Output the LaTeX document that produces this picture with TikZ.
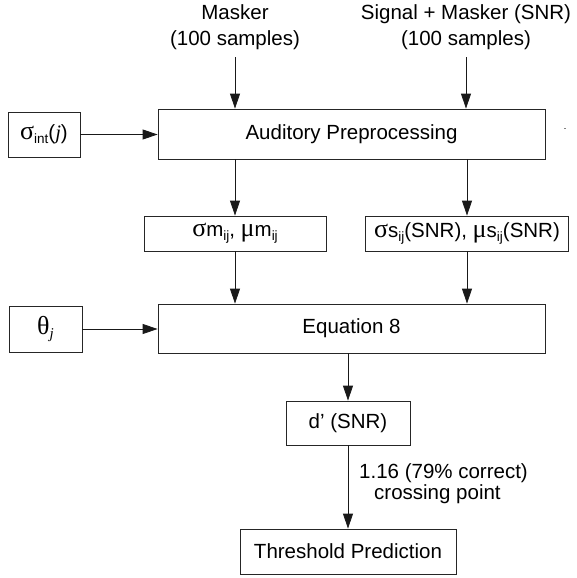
\documentclass[tikz,border=0pt]{standalone}
\usepackage{fontspec}
\setmainfont{Liberation Sans}
\newfontfamily\grk{Liberation Serif}
\usetikzlibrary{arrows.meta}
\newcommand{\sbs}[1]{\raisebox{-4pt}{\fontsize{13.5}{13.5}\selectfont #1}}
\newcommand{\gk}[1]{{\grk\fontsize{26}{26}\selectfont #1}}
\begin{document}
\begin{tikzpicture}[x=1pt,y=-1pt, font=\fontsize{20.5}{25}\selectfont,
  box/.style={draw=black!85, line width=0.8pt, rectangle, inner sep=0pt, anchor=center},
  arr/.style={draw=black!90, line width=0.8pt, -{Triangle[length=15pt,width=10pt]}},
  ln/.style={draw=black!85, line width=0.8pt}]
\useasboundingbox (0,0) rectangle (576,578);
% inputs
\node[align=center, font=\fontsize{20.5}{26}\selectfont] (masker) at (235,27) {Masker\\(100 samples)};
\node[align=center, font=\fontsize{20.5}{26}\selectfont] (signal) at (466,27) {Signal + Masker (SNR)\\(100 samples)};
% boxes
\node[box, minimum width=72pt, minimum height=45pt] (sint) at (44,134.5) {\gk{σ}\sbs{int}({\grk\itshape j})};
\node[box, minimum width=387pt, minimum height=50pt] (ap) at (351.5,134) {Auditory Preprocessing};
\node[box, minimum width=182pt, minimum height=35pt] (sm) at (235,233.5) {\gk{σ}m\sbs{ij}, \gk{μ}m\sbs{ij}};
\node[box, minimum width=203pt, minimum height=35pt] (ss) at (467,233.5) {\gk{σ}s\sbs{ij}(SNR), \gk{μ}s\sbs{ij}(SNR)};
\node[box, minimum width=73pt, minimum height=46pt] (th) at (45.5,329) {\gk{θ}\sbs{\grk\itshape\fontsize{15}{15}\selectfont j}};
\node[box, minimum width=387pt, minimum height=49pt] (eq) at (351.5,328.5) {Equation 8};
\node[box, minimum width=124pt, minimum height=44pt] (d) at (348,423) {d’ (SNR)};
\node[box, minimum width=216pt, minimum height=45pt] (thr) at (348,551.5) {Threshold Prediction};
\node[anchor=north west, align=left, font=\fontsize{20.5}{21.5}\selectfont, inner sep=0pt] (lab) at (359,463) {1.16 (79\% correct)\\\hspace{15pt}crossing point};
% connectors
\draw[arr, shorten <=4pt] (masker.south) -- (masker.south |- ap.north);
\draw[arr, shorten <=4pt] (signal.south) -- (signal.south |- ap.north);
\draw[arr] (sint.east) -- (sint.east -| ap.west);
\draw[arr] (ap.south -| sm.north) -- (sm.north);
\draw[arr] (ap.south -| ss.north) -- (ss.north);
\draw[arr] (sm.south) -- (sm.south |- eq.north);
\draw[arr] (ss.south) -- (ss.south |- eq.north);
\draw[arr] (th.east) -- (th.east -| eq.west);
\draw[arr] (eq.south -| d.north) -- (d.north);
\draw[arr] (d.south) -- (thr.north);
% stray mark
\coordinate (mk) at (564,128);
\draw[black!50, line width=0.6pt] (mk) -- ++(2,0);
\end{tikzpicture}
\end{document}
